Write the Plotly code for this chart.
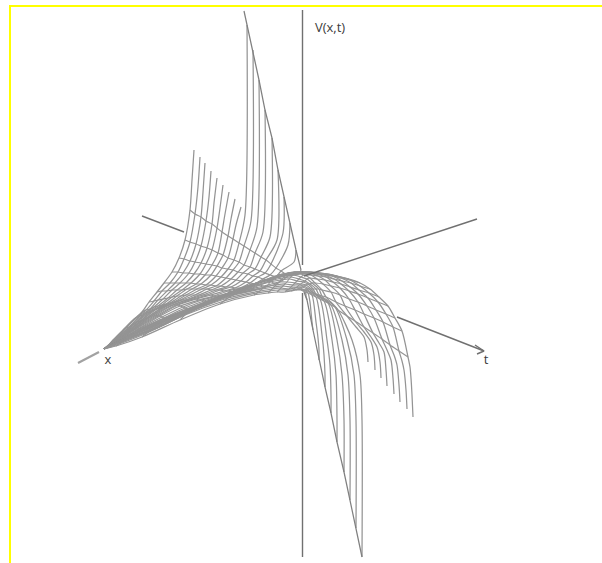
import plotly.graph_objects as go

# Labels
axis_labels = ["V(x,t)", "x", "t"]
label_x = [330, 108, 486]
label_y = [29, 361, 361]

# Axis segments visible around the surface
axis_segments_x = [
    [302.5, 302.5], [302.5, 302.5],
    [142, 184], [397, 484], [475, 484, 477],
    [477, 304],
]
axis_segments_y = [
    [10, 265], [293, 557],
    [216, 232], [317, 351], [345, 351, 354],
    [219, 276],
]
tail_x = [78, 99]
tail_y = [363, 352]

# Edges joining the free ends of the long lines
left_edge_x = [244,247,253,259,265,272,278,284,290,296,301]
left_edge_y = [11,25,50,80,110,138,170,197,223,250,270]
right_edge_x = [304,307,313,319,325,331,337,344,350,356,362]
right_edge_y = [292,300,330,360,387,413,442,472,500,528,557]

# Left wing: one list per cross-row, one value per long line
left_rows_x = [
    [194,200,205,211,217,223,229,235,241,247,253,259,265,272,278,284,290,296,301],
    [192,198,203,209,214,220,225,231,236,245,251,257,263,270,277,283,288,294,299],
    [190,195,201,206,212,217,222,228,233,239,244,250,255,261,266,271,276,281,288],
    [185,190,196,201,207,212,218,223,228,234,239,244,250,255,260,265,270,276,283],
    [179,184,190,195,201,206,212,217,222,228,233,238,243,248,253,258,263,269,276],
    [172,178,183,189,194,200,205,211,216,221,226,231,236,241,246,250,255,260,266],
    [164,170,175,180,186,191,196,201,206,211,216,221,226,231,235,240,244,249,254],
    [157,162,167,172,177,182,187,192,197,202,207,211,216,220,224,228,232,236,240],
    [149,154,158,163,168,172,177,181,186,190,195,199,203,207,211,214,217,220,224],
    [142,146,150,154,158,162,166,170,174,178,182,186,190,193,196,199,202,204,207],
    [133,136,140,143,147,150,154,157,161,164,167,170,173,176,178,180,183,185,188],
    [123,126,129,132,134,137,140,142,145,147,150,152,154,156,158,160,162,164,166],
    [113,115,117,119,121,123,125,127,128,130,132,133,134,135,136,138,139,140,142],
    [107,108,109,110,111,111,112,113,113,114,115,115,116,117,117,118,118,119,120],
    [104,104,104,104,104,104,104,104,104,104,104,104,104,104,104,104,104,104,104],
]
left_rows_y = [
    [150,157,163,171,178,185,192,199,207,25,50,80,110,138,170,197,223,250,270],
    [180,187,192,197,203,208,214,219,225,215,221,227,232,237,240,233,245,262,274],
    [210,214,217,221,224,228,232,236,239,243,246,250,253,257,260,264,268,271,276],
    [240,242,244,246,248,250,253,255,258,260,262,265,267,269,271,273,275,277,280],
    [258,259,261,262,263,264,265,266,268,269,270,272,273,274,276,277,279,281,284],
    [272,272,273,273,274,274,275,275,276,277,278,279,280,281,282,283,284,285,287],
    [283,283,283,283,283,283,284,284,285,285,286,286,287,287,288,288,289,289,290],
    [292,291,291,290,290,290,289,289,289,289,289,290,290,290,291,291,292,292,293],
    [302,301,300,299,298,297,296,296,295,295,295,295,295,295,295,296,296,296,297],
    [312,310,309,307,306,305,304,303,302,301,300,300,299,299,299,300,300,301,302],
    [320,318,316,315,313,312,310,309,308,307,306,306,305,305,305,306,307,308,309],
    [330,328,327,325,324,322,321,320,319,318,317,316,316,316,316,316,317,318,319],
    [340,339,338,336,335,334,333,332,331,330,330,329,329,329,329,329,329,329,330],
    [347,346,345,345,344,343,343,342,342,341,341,341,341,341,341,341,341,341,341],
    [349,349,349,349,349,349,349,349,349,349,349,349,349,349,349,349,349,349,349],
]
left_cross_rows = range(2, 14)

# Right wing: same layout, running from the free ends to the tail
right_rows_x = [
    [413,407,400,394,387,381,375,368,362,356,350,344,337,331,325,319,313,307],
    [412,406,399,393,386,380,374,367,362,356,350,344,337,331,325,319,312,306.5],
    [411,404,397,391,384,377,371,364,360,354,348,342,336,330,324,318,311,306],
    [410,402,394,387,379,371,364,356,352,347,342,337,332,327,322,316,310,306],
    [408,399,390,382,373,364,355,347,338,335,331,328,324,320,316,312,308,305],
    [402,393,383,374,364,355,345,336,326,322,319,316,314,312,310,308,306,303],
    [395,386,376,367,358,349,340,331,322,319,316,313,311,309,307,305,303,301],
    [388,378,368,358,349,340,331,323,315,312,310,308,306,304,302,300,298,296],
    [379,369,359,350,341,333,325,317,310,307,305,303,301,299,297,295,293,291],
    [370,360,351,342,334,326,318,311,304,301,299,297,295,293,291,289,287,285],
    [360,350,341,332,324,316,309,302,296,293,291,289,287,285,283,281,279,277],
    [349,340,331,323,315,308,301,294,288,285,283,281,279,276,274,272,270,268],
    [337,328,320,312,304,297,290,284,278,275,273,270,268,265,262,260,257,254],
    [305,297,289,282,275,269,264,259,255,251,247,243,239,235,231,228,224,220],
    [260,254,248,242,237,232,227,222,218,214,210,206,202,198,194,190,185,180],
    [210,206,202,198,194,190,186,182,178,175,172,168,165,161,157,152,147,142],
    [160,157,154,151,148,145,142,139,137,135,133,131,129,127,125,122,119,116],
    [104,104,104,104,104,104,104,104,104,104,104,104,104,104,104,104,104,104],
]
right_rows_y = [
    [417,409,402,394,386,378,370,362,557,528,500,472,442,413,387,360,330,300],
    [395,390,385,378,370,362,355,350,420,420,420,420,420,395,375,350,322,298],
    [378,370,365,360,352,347,342,337,375,375,375,375,375,365,355,338,312,296],
    [367,361,355,350,343,337,332,327,340,340,340,340,340,340,335,322,302,294],
    [357,351,345,339,333,327,321,316,310,307,305,303,301,299,297,295,293,292],
    [331,327,322,318,314,310,306,302,297,296,295,294,293,292,292,291,291,291],
    [318,314,310,306,302,299,295,292,290,289,289,289,289,289,289,290,290,290],
    [306,302,298,294,291,288,286,284,283,283,284,284,285,286,287,288,289,290],
    [297,293,290,287,284,282,280,279,278,279,281,282,284,285,287,288,290,291],
    [289,286,283,281,279,277,276,275,275,277,279,281,283,285,287,289,290,292],
    [283,280,278,276,275,274,273,273,273,275,277,279,282,284,286,288,290,292],
    [279,277,275,274,273,272,272,272,273,275,278,280,282,285,287,289,291,293],
    [276,274,273,272,272,272,273,274,275,278,280,282,285,287,289,291,293,295],
    [273,274,275,276,278,279,281,282,284,286,288,290,292,294,296,298,301,304],
    [282,284,286,288,290,292,294,296,298,300,302,304,306,308,310,312,315,320],
    [300,302,304,306,308,310,312,314,316,318,320,322,324,326,328,330,333,337],
    [320,322,324,326,327,329,331,332,333,334,335,337,338,339,340,342,344,346],
    [349,349,349,349,349,349,349,349,349,349,349,349,349,349,349,349,349,349],
]
right_cross_rows = range(4, 17)

MESH = "#949494"
AXIS = "#707070"
YELLOW = "#ffff00"

fig = go.Figure()


def add_line(xs, ys, color, width, spline=True):
    fig.add_trace(go.Scatter(
        x=xs, y=ys, mode="lines", hoverinfo="skip", showlegend=False,
        line=dict(color=color, width=width,
                  shape="spline" if spline else "linear", smoothing=0.8),
    ))


def add_wing(rows_x, rows_y, cross_rows):
    for i in range(len(rows_x[0])):
        add_line([r[i] for r in rows_x], [r[i] for r in rows_y], MESH, 1.25)
    for j in cross_rows:
        add_line(rows_x[j], rows_y[j], MESH, 1.1)


add_wing(left_rows_x, left_rows_y, left_cross_rows)
add_wing(right_rows_x, right_rows_y, right_cross_rows)
add_line(left_edge_x, left_edge_y, "#808080", 1.25, spline=False)
add_line(right_edge_x, right_edge_y, "#808080", 1.25, spline=False)

for sx, sy in zip(axis_segments_x, axis_segments_y):
    add_line(sx, sy, AXIS, 1.4, spline=False)
add_line(tail_x, tail_y, "#a2a2a2", 2.2, spline=False)

fig.add_trace(go.Scatter(
    x=label_x, y=label_y, mode="text", text=axis_labels, hoverinfo="skip",
    showlegend=False, textposition="middle center",
    textfont=dict(family="Open Sans", size=13, color="#3c3c3c"),
))

fig.update_layout(
    width=602, height=563, margin=dict(l=0, r=0, t=0, b=0),
    paper_bgcolor="white", plot_bgcolor="white",
    xaxis=dict(range=[0, 602], visible=False, fixedrange=True),
    yaxis=dict(range=[563, 0], visible=False, fixedrange=True),
    shapes=[
        dict(type="line", xref="x", yref="y", x0=9, x1=602, y0=6, y1=6,
             line=dict(color=YELLOW, width=2)),
        dict(type="line", xref="x", yref="y", x0=10, x1=10, y0=5, y1=563,
             line=dict(color=YELLOW, width=2)),
    ],
)

fig.write_html("out.html", config=dict(displayModeBar=False),
               post_script="document.body.style.margin='0';")
